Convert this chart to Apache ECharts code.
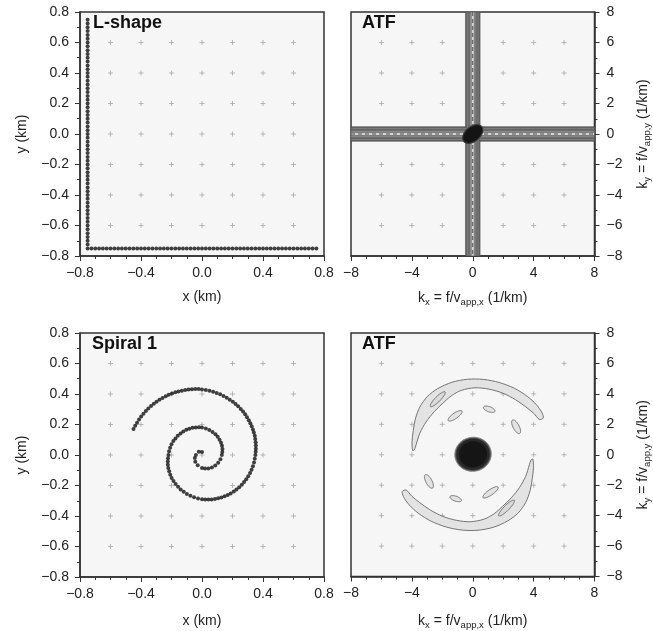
<!DOCTYPE html>
<html><head><meta charset="utf-8">
<script src="https://cdn.jsdelivr.net/npm/echarts@6/dist/echarts.min.js"></script>
<style>html,body{margin:0;padding:0;background:#fff}#c{width:653px;height:631px}</style>
</head><body><div id="c"></div>
<script>
// ---------------- data ----------------
// L-shaped array: station offsets along each leg (km); the legs meet at the corner
const lShapeLeg = [-0.75,-0.725,-0.7,-0.675,-0.65,-0.625,-0.6,-0.575,-0.55,-0.525,-0.5,-0.475,-0.45,-0.425,-0.4,-0.375,-0.35,-0.325,-0.3,-0.275,-0.25,-0.225,-0.2,-0.175,-0.15,-0.125,-0.1,-0.075,-0.05,-0.025,0,0.025,0.05,0.075,0.1,0.125,0.15,0.175,0.2,0.225,0.25,0.275,0.3,0.325,0.35,0.375,0.4,0.425,0.45,0.475,0.5,0.525,0.55,0.575,0.6,0.625,0.65,0.675,0.7,0.725,0.75];
const lShapeCorner = -0.75;

// Spiral array stations (km)
const spiralX = [0,-0.021,-0.04,-0.047,-0.044,-0.028,0,0.02,0.042,0.065,0.087,0.106,0.121,0.13,0.133,0.134,0.131,0.125,0.115,0.103,0.088,0.069,0.048,0.025,0,-0.02,-0.041,-0.062,-0.083,-0.103,-0.123,-0.141,-0.159,-0.174,-0.188,-0.2,-0.209,-0.216,-0.22,-0.223,-0.224,-0.224,-0.221,-0.215,-0.208,-0.199,-0.187,-0.173,-0.157,-0.14,-0.12,-0.099,-0.076,-0.052,-0.026,0,0.021,0.042,0.063,0.085,0.106,0.127,0.148,0.169,0.188,0.208,0.226,0.244,0.261,0.276,0.29,0.303,0.315,0.325,0.334,0.341,0.346,0.35,0.352,0.353,0.353,0.352,0.349,0.346,0.34,0.334,0.326,0.317,0.307,0.295,0.283,0.269,0.254,0.237,0.22,0.202,0.182,0.162,0.141,0.119,0.096,0.073,0.049,0.025,0,-0.022,-0.044,-0.066,-0.088,-0.11,-0.132,-0.154,-0.175,-0.197,-0.218,-0.238,-0.259,-0.279,-0.298,-0.316,-0.334,-0.352,-0.368,-0.384,-0.399,-0.413,-0.426,-0.438,-0.449];
const spiralY = [0.02,0.021,0,-0.02,-0.044,-0.068,-0.085,-0.089,-0.088,-0.082,-0.069,-0.051,-0.028,0,0.019,0.039,0.06,0.08,0.1,0.119,0.136,0.151,0.164,0.174,0.18,0.182,0.181,0.178,0.172,0.165,0.154,0.141,0.127,0.109,0.091,0.07,0.048,0.024,0,-0.021,-0.042,-0.064,-0.085,-0.107,-0.129,-0.15,-0.17,-0.19,-0.208,-0.226,-0.241,-0.255,-0.267,-0.277,-0.285,-0.29,-0.292,-0.292,-0.291,-0.289,-0.284,-0.279,-0.271,-0.262,-0.252,-0.24,-0.226,-0.211,-0.195,-0.177,-0.159,-0.139,-0.118,-0.096,-0.073,-0.049,-0.025,0,0.021,0.041,0.062,0.083,0.105,0.126,0.147,0.168,0.188,0.209,0.228,0.248,0.267,0.285,0.302,0.319,0.335,0.349,0.363,0.376,0.387,0.398,0.407,0.415,0.421,0.426,0.43,0.432,0.432,0.431,0.429,0.426,0.422,0.417,0.411,0.403,0.395,0.385,0.374,0.362,0.35,0.336,0.321,0.305,0.288,0.27,0.252,0.232,0.212,0.191,0.17];

// axis ticks
const arrayXTicks = [-0.8,-0.4,0,0.4,0.8];
const arrayYTicks = [-0.8,-0.6,-0.4,-0.2,0,0.2,0.4,0.6,0.8];
const atfXTicks = [-8,-4,0,4,8];
const atfYTicks = [-8,-6,-4,-2,0,2,4,6,8];
// reference "+" marks
const arrayGridMarks = [-0.6,-0.4,-0.2,0,0.2,0.4,0.6];
const atfGridMarks = [-6,-4,-2,0,2,4,6];

// ATF of the L-shape: half-widths (1/km) of the contour bands along kx=0 and ky=0
const crossBandHalfWidths = [0.48, 0.4, 0.3, 0.2, 0.1];
// central lobe of L-shape ATF: [kx, ky, semi-major, semi-minor, angle deg]
const crossMainLobe = [[0, 0, 0.76, 0.48, 40]];

// ATF of the spiral: main lobe contours [kx, ky, rx, ry]
const spiralMainLobe = [[0.02,0.03,1.2,1.12],[0.02,0.03,1.1,1.03],[0.02,0.03,0.92,0.86]];
// side-lobe crescents (closed contours: outer edge, then inner edge)
const lobeUpperKx = [-3.95,-3.99,-3.91,-3.77,-3.48,-2.99,-2.31,-1.37,-0.35,0.70,1.73,2.73,3.58,4.19,4.56,4.63,4.37,4.02,3.49,2.82,1.97,1.07,0.15,-0.75,-1.41,-1.96,-2.54,-3.07,-3.48,-3.72,-3.83];
const lobeUpperKy = [0.28,0.85,1.58,2.36,3.13,3.82,4.34,4.76,4.96,4.95,4.75,4.37,3.84,3.28,2.74,2.41,2.32,2.71,3.14,3.61,4.05,4.31,4.40,4.23,3.87,3.39,2.82,2.15,1.41,0.66,0.34];
const lobeLowerKx = [3.95,3.99,3.91,3.77,3.48,2.99,2.31,1.37,0.35,-0.70,-1.73,-2.73,-3.58,-4.19,-4.56,-4.63,-4.37,-4.02,-3.49,-2.82,-1.97,-1.07,-0.15,0.75,1.41,1.96,2.54,3.07,3.48,3.72,3.83];
const lobeLowerKy = [-0.28,-0.85,-1.58,-2.36,-3.13,-3.82,-4.34,-4.76,-4.96,-4.95,-4.75,-4.37,-3.84,-3.28,-2.74,-2.41,-2.32,-2.71,-3.14,-3.61,-4.05,-4.31,-4.40,-4.23,-3.87,-3.39,-2.82,-2.15,-1.41,-0.66,-0.34];
// small side-lobe islands: [kx, ky, semi-major, semi-minor, angle deg]
const sideIslands = [[-1.16,2.56,0.55,0.18,35],[1.08,2.99,0.4,0.17,-20],[2.85,1.84,0.5,0.2,-62],[-2.88,-1.75,0.5,0.2,-62],[-1.12,-2.885,0.4,0.16,-20],[1.17,-2.47,0.6,0.18,35]];
// higher contour inside crescents
const crescentCores = [[-2.3,3.65,0.68,0.17,45],[2.22,-3.5,0.72,0.17,45]];

// ---------------- rendering ----------------
const FONT = 'Liberation Sans, Arial, Helvetica, sans-serif';
const TXT = '#222';
const fmtArr = v => { let s = (Math.round(v*10)/10).toFixed(1); if (s === '-0.0') s = '0.0'; return s.replace('-', '\u2212'); };
const fmtAtf = v => String(Math.round(v)).replace('-', '\u2212');

const product = (a, b) => { const out = []; a.forEach(x => b.forEach(y => out.push([x, y]))); return out; };

function crossRender(params, api) {
  const p = api.coord([api.value(0), api.value(1)]);
  const h = 2.5;
  const st = {stroke:'#a8a8a8', lineWidth:0.8};
  return {type:'group', children:[
    {type:'line', shape:{x1:p[0]-h,y1:p[1],x2:p[0]+h,y2:p[1]}, style:st},
    {type:'line', shape:{x1:p[0],y1:p[1]-h,x2:p[0],y2:p[1]+h}, style:st}
  ]};
}
function ellipsePoints(api, cx, cy, a, b, angDeg) {
  const c = api.coord([cx, cy]);
  const sx = api.size([1, 1]);
  const th = angDeg * Math.PI / 180;
  const pts = [];
  for (let i = 0; i < 60; i++) {
    const t = i / 60 * 2 * Math.PI;
    const dx = a*Math.cos(t)*Math.cos(th) - b*Math.sin(t)*Math.sin(th);
    const dy = a*Math.cos(t)*Math.sin(th) + b*Math.sin(t)*Math.cos(th);
    pts.push([c[0] + dx*sx[0], c[1] - dy*sx[1]]);
  }
  return pts;
}
const bandFills = ['#6e6e6e', '#8c8c8c', '#7a7a7a', '#a0a0a0', '#d4d4d4'];
function bandRender(params, api) {
  const w = crossBandHalfWidths[params.dataIndex];
  const lo = atfXTicks[0], hi = atfXTicks[atfXTicks.length-1];
  const a = api.coord([lo, w]), b = api.coord([hi, -w]);
  const c = api.coord([-w, atfYTicks[atfYTicks.length-1]]), d = api.coord([w, atfYTicks[0]]);
  const st = {fill: bandFills[params.dataIndex], stroke:'#505050', lineWidth:0.6};
  return {type:'group', children:[
    {type:'rect', shape:{x:a[0], y:a[1], width:b[0]-a[0], height:b[1]-a[1]}, style:st},
    {type:'rect', shape:{x:c[0], y:c[1], width:d[0]-c[0], height:d[1]-c[1]}, style:st}
  ]};
}
function centerLineRender(params, api) {
  const lo = atfXTicks[0], hi = atfXTicks[atfXTicks.length-1];
  const p1 = api.coord([lo, 0]), p2 = api.coord([hi, 0]);
  const q1 = api.coord([0, atfYTicks[atfYTicks.length-1]]), q2 = api.coord([0, atfYTicks[0]]);
  const st = {stroke:'#4a4a4a', lineWidth:1, lineDash:[4,3]};
  return {type:'group', children:[
    {type:'line', shape:{x1:p1[0],y1:p1[1],x2:p2[0],y2:p2[1]}, style:st},
    {type:'line', shape:{x1:q1[0],y1:q1[1],x2:q2[0],y2:q2[1]}, style:st}
  ]};
}
function blobRender(params, api) {
  const r = crossMainLobe[params.dataIndex];
  return {type:'polygon', shape:{points: ellipsePoints(api, r[0], r[1], r[2], r[3], r[4])}, style:{fill:'#141414', stroke:'#3a3a3a', lineWidth:1.2}};
}
function lobeRender(params, api) {
  const kx = params.dataIndex === 0 ? lobeUpperKx : lobeLowerKx;
  const ky = params.dataIndex === 0 ? lobeUpperKy : lobeLowerKy;
  const pts = kx.map((x, i) => api.coord([x, ky[i]]));
  return {type:'polygon', shape:{points: pts, smooth:0.3}, style:{fill:'#e3e3e3', stroke:'#666', lineWidth:0.9}};
}
function islandRender(arr, fill) {
  return function(params, api) {
    const r = arr[params.dataIndex];
    return {type:'polygon', shape:{points: ellipsePoints(api, r[0], r[1], r[2], r[3], r[4])}, style:{fill: fill, stroke:'#666', lineWidth:0.9}};
  };
}
const discFills = ['#505050', '#282828', '#151515'];
function discRender(params, api) {
  const r = spiralMainLobe[params.dataIndex];
  return {type:'polygon', shape:{points: ellipsePoints(api, r[0], r[1], r[2], r[3], 10)}, style:{fill: discFills[params.dataIndex], stroke: params.dataIndex === 0 ? '#888' : 'none', lineWidth:0.9}};
}

const gridBase = {show:true, backgroundColor:'#f6f6f6', borderColor:'#333', borderWidth:1.5};
const grids = [
  Object.assign({left:80, top:12, width:244, height:244}, gridBase),
  Object.assign({left:351, top:12, width:245, height:244}, gridBase),
  Object.assign({left:80, top:333, width:244, height:244}, gridBase),
  Object.assign({left:351, top:333, width:245, height:244}, gridBase)
];
const labelStyle = {fontFamily:FONT, fontSize:14, color:TXT};
const axisLine = {show:true, onZero:false, lineStyle:{color:'#333', width:1.5}};
const tick = {show:true, inside:false, length:5, lineStyle:{color:'#333', width:1}};
const minorTick = n => ({show:true, splitNumber:n, length:3, lineStyle:{color:'#333', width:1}});
const rich = {
  n:{fontFamily:FONT, fontSize:14, color:TXT, lineHeight:17},
  s:{fontFamily:FONT, fontSize:9.5, color:TXT, lineHeight:10, padding:[8,0,0,0]}
};
function xArr(gi, gap) {
  return {type:'value', gridIndex:gi, min:arrayXTicks[0], max:arrayXTicks[arrayXTicks.length-1], interval:arrayXTicks[1]-arrayXTicks[0],
    axisLine, axisTick:tick, minorTick:minorTick(4), splitLine:{show:false},
    axisLabel:Object.assign({formatter:fmtArr, margin:10, showMinLabel:true, showMaxLabel:true}, labelStyle),
    name:'x (km)', nameLocation:'middle', nameGap:gap, nameTextStyle:labelStyle};
}
function yArr(gi) {
  return {type:'value', gridIndex:gi, min:arrayYTicks[0], max:arrayYTicks[arrayYTicks.length-1], interval:arrayYTicks[1]-arrayYTicks[0],
    axisLine, axisTick:tick, minorTick:minorTick(2), splitLine:{show:false},
    axisLabel:Object.assign({formatter:fmtArr, margin:11, showMinLabel:true, showMaxLabel:true}, labelStyle),
    name:'y (km)', nameLocation:'middle', nameGap:51, nameRotate:90, nameTextStyle:labelStyle};
}
function xAtf(gi, gap) {
  return {type:'value', gridIndex:gi, min:atfXTicks[0], max:atfXTicks[atfXTicks.length-1], interval:atfXTicks[1]-atfXTicks[0],
    axisLine, axisTick:tick, minorTick:minorTick(4), splitLine:{show:false},
    axisLabel:Object.assign({formatter:fmtAtf, margin:10, showMinLabel:true, showMaxLabel:true}, labelStyle),
    name:'{n|k}{s|x}{n| = f/v}{s|app,x}{n| (1/km)}', nameLocation:'middle', nameGap:gap, nameTextStyle:{rich}};
}
function yAtf(gi) {
  return {type:'value', gridIndex:gi, position:'right', min:atfYTicks[0], max:atfYTicks[atfYTicks.length-1], interval:atfYTicks[1]-atfYTicks[0],
    axisLine, axisTick:tick, minorTick:minorTick(2), splitLine:{show:false},
    axisLabel:Object.assign({formatter:fmtAtf, margin:12, showMinLabel:true, showMaxLabel:true}, labelStyle),
    name:'{n|k}{s|y}{n| = f/v}{s|app,y}{n| (1/km)}', nameLocation:'middle', nameGap:40, nameRotate:90, nameTextStyle:{rich}};
}

const lShapePoints = lShapeLeg.map(v => [lShapeCorner, v]).concat(lShapeLeg.slice(1).map(v => [v, lShapeCorner]));
const spiralPoints = spiralX.map((x, i) => [x, spiralY[i]]);
const idx = arr => arr.map((r, i) => [r[0], r[1], i]);

const titleStyle = {fontFamily:FONT, fontSize:18, fontWeight:'bold', color:'#111'};
const option = {
  animation:false,
  backgroundColor:'#ffffff',
  title:[
    {text:'L-shape', left:93, top:14, padding:0, textStyle:titleStyle},
    {text:'ATF', left:362, top:14, padding:0, textStyle:titleStyle},
    {text:'Spiral 1', left:92, top:335, padding:0, textStyle:titleStyle},
    {text:'ATF', left:362, top:335, padding:0, textStyle:titleStyle}
  ],
  grid:grids,
  xAxis:[xArr(0, 34), xAtf(1, 34), xArr(2, 37), xAtf(3, 36)],
  yAxis:[yArr(0), yAtf(1), yArr(2), yAtf(3)],
  series:[
    {type:'custom', xAxisIndex:0, yAxisIndex:0, renderItem:crossRender, data:product(arrayGridMarks, arrayGridMarks), silent:true, z:1},
    {type:'scatter', xAxisIndex:0, yAxisIndex:0, data:lShapePoints, symbolSize:4, itemStyle:{color:'#111'}, z:3},
    {type:'custom', xAxisIndex:1, yAxisIndex:1, renderItem:crossRender, data:product(atfGridMarks, atfGridMarks), silent:true, z:1},
    {type:'custom', xAxisIndex:1, yAxisIndex:1, renderItem:bandRender, data:crossBandHalfWidths.map((w, i) => [0, w, i]), clip:true, z:2},
    {type:'custom', xAxisIndex:1, yAxisIndex:1, renderItem:centerLineRender, data:[[0,0]], clip:true, z:3},
    {type:'custom', xAxisIndex:1, yAxisIndex:1, renderItem:blobRender, data:idx(crossMainLobe), z:4},
    {type:'custom', xAxisIndex:2, yAxisIndex:2, renderItem:crossRender, data:product(arrayGridMarks, arrayGridMarks), silent:true, z:1},
    {type:'scatter', xAxisIndex:2, yAxisIndex:2, data:spiralPoints, symbolSize:4, itemStyle:{color:'#111'}, z:3},
    {type:'custom', xAxisIndex:3, yAxisIndex:3, renderItem:crossRender, data:product(atfGridMarks, atfGridMarks), silent:true, z:1},
    {type:'custom', xAxisIndex:3, yAxisIndex:3, renderItem:lobeRender, data:[[lobeUpperKx[8], lobeUpperKy[8]], [lobeLowerKx[8], lobeLowerKy[8]]], z:2},
    {type:'custom', xAxisIndex:3, yAxisIndex:3, renderItem:islandRender(sideIslands, '#e3e3e3'), data:idx(sideIslands), z:3},
    {type:'custom', xAxisIndex:3, yAxisIndex:3, renderItem:islandRender(crescentCores, '#dadada'), data:idx(crescentCores), z:3},
    {type:'custom', xAxisIndex:3, yAxisIndex:3, renderItem:discRender, data:idx(spiralMainLobe), z:4}
  ]
};
const chart = echarts.init(document.getElementById('c'), null, {renderer:'canvas'});
chart.setOption(option);
</script>
</body></html>
